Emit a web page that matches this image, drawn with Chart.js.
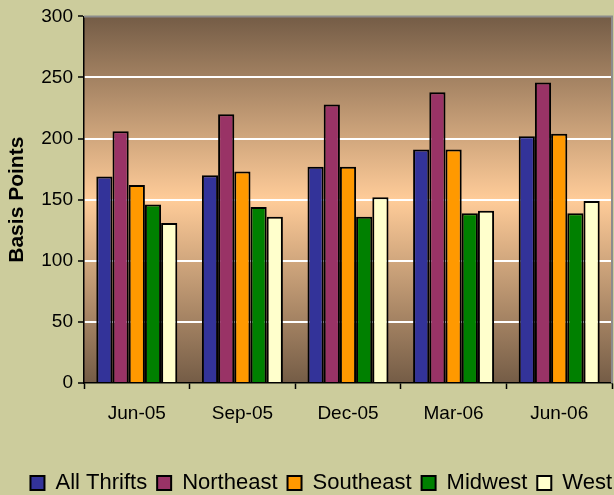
<!DOCTYPE html>
<html>
<head>
<meta charset="utf-8">
<script src="https://cdn.jsdelivr.net/npm/chart.js@4/dist/chart.umd.min.js"></script>
<style>
  html, body { margin: 0; padding: 0; background: #cccc9c; }
  #wrap { width: 614px; height: 495px; position: relative; }
</style>
</head>
<body>
<div id="wrap"><canvas id="c" width="614" height="495"></canvas></div>
<script>
const categories = ['Jun-05', 'Sep-05', 'Dec-05', 'Mar-06', 'Jun-06'];
const allThrifts = [169, 170, 177, 191, 202];
const northeast  = [206, 220, 228, 238, 246];
const southeast  = [162, 173, 177, 191, 204];
const midwest    = [146, 144, 136, 139, 139];
const west       = [131, 136, 152, 141, 149];
const yTicks     = [0, 50, 100, 150, 200, 250, 300];
const seriesNames = ['All Thrifts', 'Northeast', 'Southeast', 'Midwest', 'West'];
const seriesColors = ['#333399', '#993366', '#ff9900', '#008000', '#ffffcc'];
const seriesData = [allThrifts, northeast, southeast, midwest, west];

const FONT = "'Liberation Sans', Arial, sans-serif";

const bgPlugin = {
  id: 'bgPlugin',
  afterLayout(chart) {
    if (chart.legend) { chart.legend.right += 10; }
  },
  beforeDraw(chart) {
    const {ctx, chartArea: a, width, height} = chart;
    ctx.save();
    ctx.fillStyle = '#cccc9c';
    ctx.fillRect(0, 0, width, height);
    const g = ctx.createLinearGradient(0, a.top, 0, a.bottom);
    g.addColorStop(0, '#745c46');
    g.addColorStop(0.5, '#ffcc99');
    g.addColorStop(1, '#745c46');
    ctx.fillStyle = g;
    ctx.fillRect(a.left, a.top, a.right - a.left, a.bottom - a.top);
    ctx.restore();
  },
  beforeDatasetsDraw(chart) {
    const {ctx, chartArea: a} = chart;
    ctx.save();
    ctx.strokeStyle = '#8c8c8c';
    ctx.lineWidth = 2;
    ctx.beginPath();
    ctx.moveTo(a.left, a.top);
    ctx.lineTo(a.right, a.top);
    ctx.lineTo(a.right, a.bottom);
    ctx.stroke();
    ctx.restore();
  }
};

new Chart(document.getElementById('c'), {
  type: 'bar',
  data: {
    labels: categories,
    datasets: seriesNames.map((n, i) => ({
      label: n,
      data: seriesData[i],
      backgroundColor: seriesColors[i],
      borderColor: '#000',
      borderWidth: 2,
      categoryPercentage: 0.767,
      barPercentage: 1.0
    }))
  },
  options: {
    responsive: false,
    animation: false,
    layout: { padding: { left: 5, top: 16, right: 2, bottom: -9 } },
    plugins: {
      legend: {
        position: 'bottom',
        align: 'end',
        labels: {
          font: { family: FONT, size: 22 },
          color: '#000',
          boxWidth: 14,
          boxHeight: 14,
          padding: 10
        }
      },
      tooltip: { enabled: false }
    },
    scales: {
      x: {
        grid: {
          drawOnChartArea: false,
          tickLength: 6,
          tickColor: '#000',
          tickWidth: 1.5,
          offset: true
        },
        border: { color: '#000', width: 1.5 },
        ticks: {
          font: { family: FONT, size: 19 },
          color: '#000',
          padding: 13,
          maxRotation: 0
        },
        afterFit(s) { s.height = 79; }
      },
      y: {
        min: 0,
        max: 300,
        afterBuildTicks(s) { s.ticks = yTicks.map(v => ({ value: v })); },
        grid: {
          color: (c) => (c.tick && (c.tick.value === 0 || c.tick.value === 300)) ? 'rgba(0,0,0,0)' : '#ffffff',
          lineWidth: 2,
          tickLength: 6,
          tickColor: '#000',
          tickWidth: 1.5
        },
        border: { color: '#000', width: 1.5 },
        ticks: {
          font: { family: FONT, size: 19 },
          color: '#000',
          padding: 5
        },
        title: {
          display: true,
          text: 'Basis Points',
          font: { family: FONT, size: 21, weight: 'bold' },
          color: '#000',
          padding: 0
        },
        afterFit(s) { s.width = 79; }
      }
    }
  },
  plugins: [bgPlugin]
});
</script>
</body>
</html>
